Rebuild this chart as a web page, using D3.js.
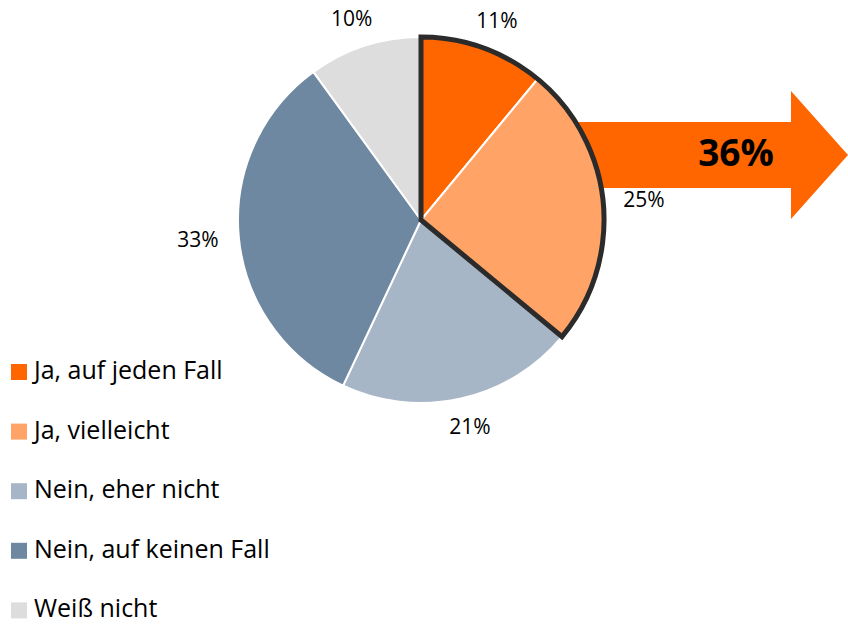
<!DOCTYPE html>
<html>
<head>
<meta charset="utf-8">
<script src="https://cdn.jsdelivr.net/npm/d3@7"></script>
<style>
  body { margin: 0; background: #fff; }
  text { font-family: "Open Sans", Lato, sans-serif; }
</style>
</head>
<body>
<div id="chart"></div>
<script>
// data
var categories = ["Ja, auf jeden Fall", "Ja, vielleicht", "Nein, eher nicht", "Nein, auf keinen Fall", "Weiß nicht"];
var values = [11, 25, 21, 33, 10];
var colors = ["#FF6600", "#FFA366", "#A7B6C7", "#6E88A2", "#DDDDDD"];
var highlightCount = 2;          // first two slices are grouped
var highlightLabel = "36%";

var width = 848, height = 624;
var cx = 421, cy = 220, radius = 183;

var svg = d3.select("#chart")
  .append("svg")
    .attr("width", width)
    .attr("height", height);

var data = categories.map(function(c, i) { return {name: c, value: values[i], color: colors[i]}; });

var pie = d3.pie().sort(null).value(function(d) { return d.value; });
var arcs = pie(data);

var arcGen = d3.arc().innerRadius(0).outerRadius(radius);

// labels sit outside the edge, a bit further out on the sides
var labelRx = 224, labelRy = 212;

// arrow behind the pie
var arrowY = cy - 65, bodyH = 66, headH = 128;
var arrowX0 = cx + 80, headX = 791, tipX = 848;
var arrowPts = [
  [arrowX0, arrowY - bodyH / 2], [headX, arrowY - bodyH / 2], [headX, arrowY - headH / 2],
  [tipX, arrowY], [headX, arrowY + headH / 2], [headX, arrowY + bodyH / 2],
  [arrowX0, arrowY + bodyH / 2]
];
svg.append("path")
  .attr("d", d3.line()(arrowPts) + "Z")
  .attr("fill", "#FF6600");

svg.append("text")
  .attr("x", 736)
  .attr("y", arrowY + 11)
  .attr("text-anchor", "middle")
  .attr("font-family", "Lato, sans-serif")
  .attr("font-size", 37)
  .attr("font-weight", "bold")
  .attr("fill", "#000")
  .text(highlightLabel);

var g = svg.append("g")
  .attr("transform", "translate(" + cx + "," + cy + ")");

g.selectAll("path.slice")
  .data(arcs)
  .enter().append("path")
    .attr("class", "slice")
    .attr("d", arcGen)
    .attr("fill", function(d) { return d.data.color; })
    .attr("stroke", "#fff")
    .attr("stroke-width", 2);

// outline around the grouped slices
var groupEnd = arcs[highlightCount - 1].endAngle;
g.append("path")
  .attr("d", arcGen({startAngle: 0, endAngle: groupEnd}))
  .attr("fill", "none")
  .attr("stroke", "#2B2B2B")
  .attr("stroke-width", 5)
  .attr("stroke-linejoin", "miter");

g.selectAll("text.lbl")
  .data(arcs)
  .enter().append("text")
    .attr("class", "lbl")
    .attr("transform", function(d) {
      var a = (d.startAngle + d.endAngle) / 2;
      return "translate(" + (labelRx * Math.sin(a)) + "," + (-labelRy * Math.cos(a)) + ")";
    })
    .attr("dy", "0.35em")
    .attr("text-anchor", "middle")
    .attr("font-size", 21)
    .attr("fill", "#000")
    .text(function(d) { return d.data.value + "%"; });

// legend
var legend = svg.append("g").attr("transform", "translate(11,372)");
var rows = legend.selectAll("g")
  .data(data)
  .enter().append("g")
    .attr("transform", function(d, i) { return "translate(0," + (i * 59.6) + ")"; });

rows.append("rect")
  .attr("x", 0).attr("y", -8)
  .attr("width", 16).attr("height", 16)
  .attr("fill", function(d) { return d.color; });

rows.append("text")
  .attr("x", 23)
  .attr("y", 7)
  .attr("font-size", 25)
  .attr("fill", "#000")
  .text(function(d) { return d.name; });
</script>
</body>
</html>
